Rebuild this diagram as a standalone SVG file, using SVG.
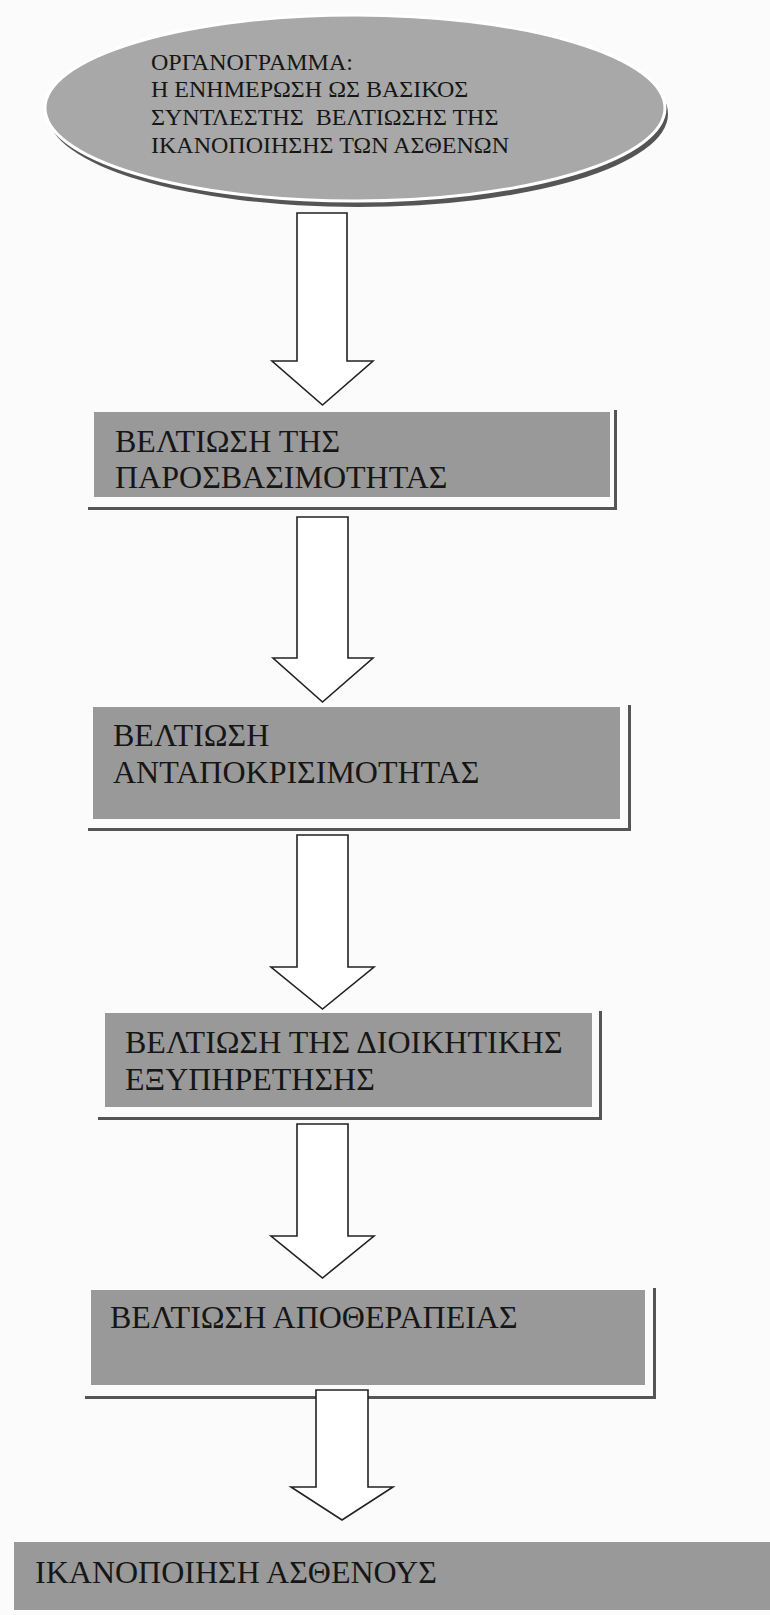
<svg xmlns="http://www.w3.org/2000/svg" width="770" height="1615" viewBox="0 0 770 1615">
<style>
.bg{fill:#fafbfa}
.box{fill:#999999}
.shd{fill:#555}
.t{font-family:"Liberation Serif","Times New Roman",serif;fill:#161616}
.tt{font-size:24px}
.bt{font-size:32px}
.arrow{fill:#ffffff;stroke:#222;stroke-width:1.6;stroke-linejoin:miter}
</style>
<rect class="bg" x="0" y="0" width="770" height="1615"/>
<g id="title">
<ellipse cx="358" cy="114" rx="310" ry="93" fill="#555"/>
<ellipse cx="355" cy="108" rx="310" ry="93" fill="#a8a8a8" stroke="#ffffff" stroke-width="3"/>
<text class="t tt" x="151" y="70">ΟΡΓΑΝΟΓΡΑΜΜΑ:</text>
<text class="t tt" x="151" y="97">Η ΕΝΗΜΕΡΩΣΗ ΩΣ ΒΑΣΙΚΟΣ</text>
<text class="t tt" x="151" y="125" xml:space="preserve">ΣΥΝΤΛΕΣΤΗΣ  ΒΕΛΤΙΩΣΗΣ ΤΗΣ</text>
<text class="t tt" x="151" y="153">ΙΚΑΝΟΠΟΙΗΣΗΣ ΤΩΝ ΑΣΘΕΝΩΝ</text>
</g>
<g id="box1">
<rect class="shd" x="88" y="507" width="529" height="3"/>
<rect class="shd" x="614" y="410" width="3" height="100"/>
<rect class="box" x="94" y="412" width="516" height="85"/>
<text class="t bt" x="115" y="452">ΒΕΛΤΙΩΣΗ ΤΗΣ</text>
<text class="t bt" x="115" y="488">ΠΑΡΟΣΒΑΣΙΜΟΤΗΤΑΣ</text>
</g>
<g id="box2">
<rect class="shd" x="88" y="828" width="543" height="3"/>
<rect class="shd" x="628" y="705" width="3" height="126"/>
<rect class="box" x="93" y="707" width="527" height="112"/>
<text class="t bt" x="113" y="746">ΒΕΛΤΙΩΣΗ</text>
<text class="t bt" x="113" y="783">ΑΝΤΑΠΟΚΡΙΣΙΜΟΤΗΤΑΣ</text>
</g>
<g id="box3">
<rect class="shd" x="98" y="1117" width="504" height="3"/>
<rect class="shd" x="599" y="1011" width="3" height="109"/>
<rect class="box" x="105" y="1013" width="487" height="94"/>
<text class="t bt" x="125" y="1053">ΒΕΛΤΙΩΣΗ ΤΗΣ ΔΙΟΙΚΗΤΙΚΗΣ</text>
<text class="t bt" x="125" y="1090">ΕΞΥΠΗΡΕΤΗΣΗΣ</text>
</g>
<g id="box4">
<rect class="shd" x="85" y="1396" width="571" height="3"/>
<rect class="shd" x="653" y="1288" width="3" height="111"/>
<rect class="box" x="91" y="1290" width="554" height="95"/>
<text class="t bt" x="110" y="1328">ΒΕΛΤΙΩΣΗ ΑΠΟΘΕΡΑΠΕΙΑΣ</text>
</g>
<g id="box5">
<rect class="box" x="14" y="1542" width="756" height="68"/>
<text class="t bt" x="35" y="1583">ΙΚΑΝΟΠΟΙΗΣΗ ΑΣΘΕΝΟΥΣ</text>
</g>
<g id="connectors">
<path class="arrow" d="M297,213 H347 V361 H373 L322.5,405 L272,361 H297 Z"/>
<path class="arrow" d="M297,517 H348 V658 H373 L322.5,702 L273,658 H297 Z"/>
<path class="arrow" d="M297,835 H348 V967 H374 L322.5,1009 L271,967 H297 Z"/>
<path class="arrow" d="M297,1124 H348 V1236 H374 L322.5,1278 L271,1236 H297 Z"/>
<path class="arrow" d="M316,1390 H368 V1487 H393 L342,1520 L291,1487 H316 Z"/>
</g>
</svg>
